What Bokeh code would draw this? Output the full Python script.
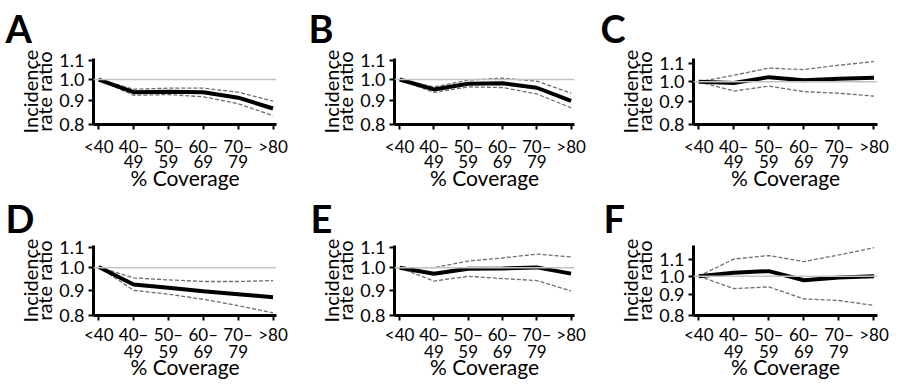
from bokeh.plotting import figure
from bokeh.layouts import column, row
from bokeh.models import Range1d, FixedTicker, LinearAxis, PrintfTickFormatter, Span
from bokeh.embed import file_html
from bokeh.resources import INLINE

# ---- data ----
categories = ["<40", "40–49", "50–59", "60–69", "70–79", ">80"]
tick_line1 = ["<40", "40–", "50–", "60–", "70–", ">80"]
tick_line2 = ["", "49", "59", "69", "79", ""]
y_ticks = [0.8, 0.9, 1.0, 1.1]
letters = ["A", "B", "C", "D", "E", "F"]

a_est = [1.0, 0.939, 0.941, 0.939, 0.914, 0.866]
a_upper = [1.0, 0.953, 0.958, 0.958, 0.939, 0.898]
a_lower = [1.0, 0.925, 0.928, 0.918, 0.887, 0.836]

b_est = [1.0, 0.952, 0.979, 0.982, 0.960, 0.899]
b_upper = [1.0, 0.964, 0.997, 1.007, 0.992, 0.935]
b_lower = [1.0, 0.938, 0.964, 0.961, 0.931, 0.869]

c_est = [1.0, 0.994, 1.025, 1.008, 1.017, 1.022]
c_upper = [1.0, 1.035, 1.075, 1.066, 1.091, 1.112]
c_lower = [1.0, 0.953, 0.978, 0.950, 0.942, 0.928]

d_est = [1.004, 0.925, 0.911, 0.896, 0.884, 0.871]
d_upper = [1.004, 0.954, 0.945, 0.938, 0.938, 0.942]
d_lower = [1.004, 0.900, 0.884, 0.863, 0.838, 0.810]

e_est = [1.0, 0.973, 0.996, 0.997, 1.002, 0.973]
e_upper = [1.0, 1.001, 1.032, 1.047, 1.066, 1.052]
e_lower = [1.0, 0.940, 0.961, 0.951, 0.942, 0.897]

f_est = [1.0, 1.020, 1.029, 0.977, 0.993, 1.000]
f_upper = [1.0, 1.102, 1.124, 1.086, 1.128, 1.175]
f_lower = [1.0, 0.932, 0.941, 0.879, 0.871, 0.847]

y_tops = [1.11, 1.11, 1.13, 1.11, 1.11, 1.19]

FONT = "Lato"
series = [(a_est, a_upper, a_lower), (b_est, b_upper, b_lower), (c_est, c_upper, c_lower),
          (d_est, d_upper, d_lower), (e_est, e_upper, e_lower), (f_est, f_upper, f_lower)]

widths = [300, 300, 300]
heights = [192, 194]
borders_left = [93, 94, 93]
borders_right = [24, 26, 23]
row_top = [54, 49]
row_bottom = [64, 71]
title_offsets = [[-88, -86, -93], [-88, -84, -90]]
title_line_height = [0.1, 0.1]
title_standoff = [5, 0]
xlab_standoff = [6, 3]
xlab2_standoff = [-5, -3]
cov_standoff = [-6, -7]


def make_panel(i):
    r, c = divmod(i, 3)
    est, up, lo = series[i]
    xs = list(range(len(categories)))
    p = figure(width=widths[c], height=heights[r],
               x_range=Range1d(-0.15, 5.1), y_range=Range1d(0.8, y_tops[i]),
               y_axis_type="log", output_backend="svg", toolbar_location=None,
               min_border_left=borders_left[c], min_border_right=borders_right[c],
               min_border_top=row_top[r], min_border_bottom=row_bottom[r])
    p.grid.visible = False
    p.outline_line_color = None
    p.background_fill_color = "white"

    p.title.text = letters[i] + "\n"
    p.title.text_font = FONT
    p.title.text_font_size = "38px"
    p.title.text_font_style = "bold"
    p.title.text_color = "black"
    p.title.text_line_height = title_line_height[r]
    p.title.align = "left"
    p.title.offset = title_offsets[r][c]
    p.title.standoff = title_standoff[r]

    p.add_layout(Span(location=1.0, dimension="width", line_color="#c4c4c4", line_width=1.5))
    p.line(xs, up, line_color="#6e6e6e", line_width=1.3, line_dash="4 2")
    p.line(xs, lo, line_color="#6e6e6e", line_width=1.3, line_dash="4 2")
    p.line(xs, est, line_color="black", line_width=4)

    # y axis
    ya = p.yaxis[0]
    ya.ticker = FixedTicker(ticks=y_ticks)
    ya.formatter = PrintfTickFormatter(format="%.1f")
    ya.axis_line_width = 3
    ya.axis_line_color = "black"
    ya.major_tick_line_width = 2
    ya.major_tick_line_color = "black"
    ya.major_tick_out = 5
    ya.major_tick_in = 0
    ya.minor_tick_line_color = None
    ya.major_label_text_font = FONT
    ya.major_label_text_font_size = "18px"
    ya.major_label_text_color = "black"
    ya.major_label_standoff = 4
    ya.axis_label = "rate ratio"
    ya.axis_label_text_font = FONT
    ya.axis_label_text_font_size = "20px"
    ya.axis_label_text_font_style = "normal"
    ya.axis_label_text_color = "black"
    ya.axis_label_standoff = 0
    ya2 = LinearAxis(ticker=FixedTicker(ticks=[]), axis_line_color=None,
                     major_tick_line_color=None, minor_tick_line_color=None,
                     axis_label="Incidence", axis_label_text_font=FONT,
                     axis_label_text_font_size="20px", axis_label_text_font_style="normal",
                     axis_label_text_color="black", axis_label_standoff=-12)
    p.add_layout(ya2, "left")

    # x axis (two lines of tick labels)
    xa = p.xaxis[0]
    xa.ticker = FixedTicker(ticks=xs)
    xa.major_label_overrides = {k: t for k, t in zip(xs, tick_line1)}
    xa.axis_line_width = 3
    xa.axis_line_color = "black"
    xa.major_tick_line_width = 2
    xa.major_tick_line_color = "black"
    xa.major_tick_out = 5
    xa.major_tick_in = 0
    xa.minor_tick_line_color = None
    xa.major_label_text_font = FONT
    xa.major_label_text_font_size = "17px"
    xa.major_label_text_color = "black"
    xa.major_label_standoff = xlab_standoff[r]
    xa2 = LinearAxis(ticker=FixedTicker(ticks=xs),
                     major_label_overrides={k: t for k, t in zip(xs, tick_line2)},
                     axis_line_color=None, major_tick_line_color=None,
                     minor_tick_line_color=None, major_tick_out=0, major_tick_in=0,
                     major_label_text_font=FONT, major_label_text_font_size="17px",
                     major_label_text_color="black", major_label_standoff=xlab2_standoff[r],
                     axis_label="% Coverage", axis_label_text_font=FONT,
                     axis_label_text_font_size="21px", axis_label_text_font_style="normal",
                     axis_label_text_color="black", axis_label_standoff=cov_standoff[r])
    p.add_layout(xa2, "below")
    return p


panels = [make_panel(i) for i in range(6)]
layout = column(row(*panels[:3]), row(*panels[3:]))

open("out.html", "w").write(file_html(layout, INLINE))
